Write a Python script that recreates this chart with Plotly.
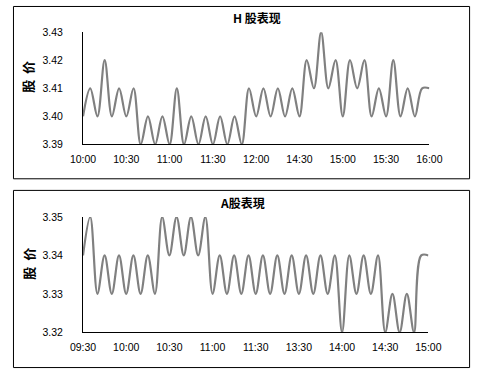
import plotly.graph_objects as go

# ---- data ----
h_values = [3.40, 3.41, 3.40, 3.42, 3.40, 3.41, 3.40, 3.41, 3.39, 3.40,
            3.39, 3.40, 3.39, 3.41, 3.39, 3.40, 3.39, 3.40, 3.39, 3.40,
            3.39, 3.40, 3.39, 3.41, 3.40, 3.41, 3.40, 3.41, 3.40, 3.41,
            3.40, 3.42, 3.41, 3.43, 3.41, 3.42, 3.40, 3.42, 3.41, 3.42,
            3.40, 3.41, 3.40, 3.42, 3.40, 3.41, 3.40, 3.41, 3.41]
h_tick_labels = ["10:00", "10:30", "11:00", "11:30", "12:00",
                 "14:30", "15:00", "15:30", "16:00"]
h_y_ticks = [3.39, 3.40, 3.41, 3.42, 3.43]

a_values = [3.34, 3.35, 3.33, 3.34, 3.33, 3.34, 3.33, 3.34, 3.33, 3.34,
            3.33, 3.35, 3.34, 3.35, 3.34, 3.35, 3.34, 3.35, 3.33, 3.34,
            3.33, 3.34, 3.33, 3.34, 3.33, 3.34, 3.33, 3.34, 3.33, 3.34,
            3.33, 3.34, 3.33, 3.34, 3.33, 3.34, 3.32, 3.34, 3.33, 3.34,
            3.33, 3.34, 3.32, 3.33, 3.32, 3.33, 3.32, 3.34, 3.34]
a_tick_labels = ["09:30", "10:00", "10:30", "11:00", "11:30",
                 "13:30", "14:00", "14:30", "15:00"]
a_y_ticks = [3.32, 3.33, 3.34, 3.35]

W, H = 484, 375
def px(x): return x / W
def py(y): return 1 - y / H

h_x = list(range(len(h_values)))
a_x = list(range(len(a_values)))
h_step = (len(h_values) - 1) // (len(h_tick_labels) - 1)
a_step = (len(a_values) - 1) // (len(a_tick_labels) - 1)

LINE = dict(color="#808080", width=2.2, shape="spline", smoothing=1.0)
TICKFONT = dict(family="Liberation Sans, Arial", size=10.5, color="black")

fig = go.Figure()
fig.add_trace(go.Scatter(x=h_x, y=h_values, mode="lines", line=LINE,
                         xaxis="x", yaxis="y", showlegend=False, hoverinfo="skip"))
fig.add_trace(go.Scatter(x=a_x, y=a_values, mode="lines", line=LINE,
                         xaxis="x2", yaxis="y2", showlegend=False, hoverinfo="skip"))

common_x = dict(showline=True, linecolor="black", linewidth=1, showgrid=False,
                zeroline=False, ticks="", tickfont=TICKFONT, ticklabelstandoff=5,
                fixedrange=True)
common_y = dict(showline=True, linecolor="black", linewidth=1, showgrid=False,
                zeroline=False, ticks="", tickfont=TICKFONT, ticklabelstandoff=17,
                tickformat=".2f", fixedrange=True)

fig.update_layout(
    width=W, height=H, margin=dict(l=0, r=0, t=0, b=0),
    paper_bgcolor="white", plot_bgcolor="white",
    xaxis=dict(domain=[px(74), px(440)], anchor="y", range=[0, len(h_values) - 1],
               tickmode="array", tickvals=h_x[::h_step], ticktext=h_tick_labels, **common_x),
    yaxis=dict(domain=[py(143), py(27)], anchor="x", range=[h_y_ticks[0], h_y_ticks[-1]],
               tickmode="array", tickvals=h_y_ticks, **common_y),
    xaxis2=dict(domain=[px(74), px(439)], anchor="y2", range=[0, len(a_values) - 1],
                tickmode="array", tickvals=a_x[::a_step], ticktext=a_tick_labels, **common_x),
    yaxis2=dict(domain=[py(337), py(218)], anchor="x2", range=[a_y_ticks[0], a_y_ticks[-1]],
                tickmode="array", tickvals=a_y_ticks, **common_y),
)

# panel borders
fig.add_shape(type="rect", xref="paper", yref="paper",
              x0=px(0.5), x1=px(482.5), y0=py(178.5), y1=py(0.5),
              line=dict(color="black", width=1))
fig.add_shape(type="rect", xref="paper", yref="paper",
              x0=px(0.5), x1=px(482.5), y0=py(373.5), y1=py(190.5),
              line=dict(color="black", width=1))

TITLEFONT = dict(family="Noto Sans CJK SC", size=12, color="black", weight="bold")
fig.add_annotation(text="H 股表现", x=px(258), y=py(12), xref="paper", yref="paper",
                   showarrow=False, font=TITLEFONT, xanchor="center", yanchor="middle")
fig.add_annotation(text="A股表現", x=px(242), y=py(203), xref="paper", yref="paper",
                   showarrow=False, font=TITLEFONT, xanchor="center", yanchor="middle")

YT = dict(family="Noto Sans CJK SC", size=13, color="black", weight="bold")
fig.add_annotation(text="股  价", x=px(16), y=py(73), xref="paper", yref="paper",
                   showarrow=False, font=YT, textangle=-90, xanchor="center", yanchor="middle")
fig.add_annotation(text="股  价", x=px(16), y=py(266), xref="paper", yref="paper",
                   showarrow=False, font=YT, textangle=-90, xanchor="center", yanchor="middle")

fig.write_html("out.html")
